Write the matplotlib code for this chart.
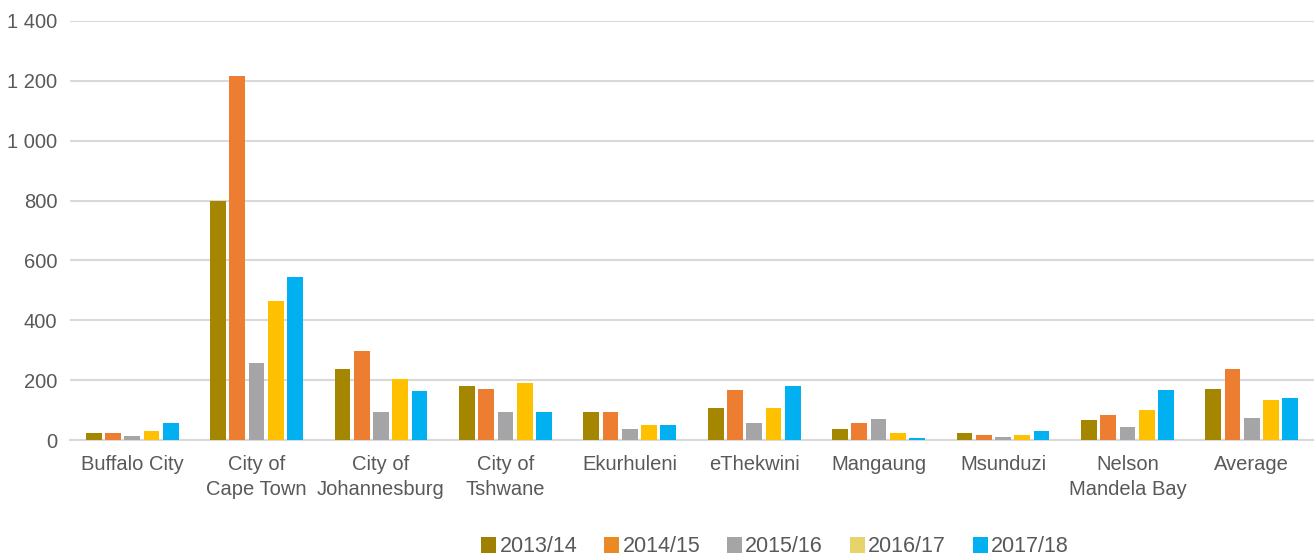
import matplotlib
matplotlib.use("Agg")
import matplotlib.pyplot as plt
import numpy as np
from matplotlib.patches import Patch
from matplotlib.ticker import FuncFormatter

categories = ["Buffalo City", "City of\nCape Town", "City of\nJohannesburg", "City of\nTshwane",
              "Ekurhuleni", "eThekwini", "Mangaung", "Msunduzi", "Nelson\nMandela Bay", "Average"]
series_names = ["2013/14", "2014/15", "2015/16", "2016/17", "2017/18"]
v2013 = [22, 797, 236, 179, 95, 107, 36, 22, 68, 172]
v2014 = [22, 1217, 296, 172, 95, 166, 56, 16, 82, 237]
v2015 = [15, 257, 95, 95, 36, 56, 69, 9, 42, 75]
v2016 = [29, 465, 204, 192, 49, 107, 22, 16, 100, 133]
v2017 = [56, 543, 165, 95, 49, 180, 6, 29, 166, 140]
values = [v2013, v2014, v2015, v2016, v2017]

bar_colors = ["#A58600", "#ED7D31", "#A5A5A8", "#FFC000", "#00B0F0"]
legend_colors = ["#A08000", "#EB8A24", "#A5A5A8", "#E8D36A", "#00B0F0"]

plt.rcParams['font.family'] = ['Liberation Sans', 'DejaVu Sans']
fig = plt.figure(figsize=(13.14, 5.58), dpi=100)
ax = fig.add_axes([70/1314, 1-440/558, 1244/1314, 419/558])

x = np.arange(len(categories))
pitch = 0.155
w = 0.127
for i, (vals, c) in enumerate(zip(values, bar_colors)):
    ax.bar(x + (i - 2) * pitch, vals, width=w, color=c, zorder=3)

ax.set_xlim(-0.5, len(categories) - 0.5)
ax.set_ylim(0, 1400)
ax.set_yticks(np.arange(0, 1401, 200))
ax.yaxis.set_major_formatter(FuncFormatter(lambda v, p: f"{int(v):,}".replace(",", " ")))
ax.set_xticks(x)
ax.set_xticklabels(categories, linespacing=1.4)
ax.grid(axis='y', color='#D9D9D9', linewidth=1.5, zorder=0)
for s in ['top', 'right', 'left']:
    ax.spines[s].set_visible(False)
ax.spines['bottom'].set_color('#D9D9D9')
ax.spines['bottom'].set_linewidth(1.5)
ax.tick_params(axis='both', length=0, labelsize=14.5, labelcolor='#595959')
ax.tick_params(axis='y', pad=9)
ax.tick_params(axis='x', pad=11)

handles = [Patch(facecolor=c, label=n) for c, n in zip(legend_colors, series_names)]
leg = fig.legend(handles=handles, loc='center', bbox_to_anchor=(775/1314, 1-547/558), ncol=5,
                 frameon=False, fontsize=15.5, handlelength=0.7, handleheight=0.7,
                 handletextpad=0.15, columnspacing=1.24, borderpad=0)
for t in leg.get_texts():
    t.set_color('#595959')

fig.savefig("out.png", dpi=100)
